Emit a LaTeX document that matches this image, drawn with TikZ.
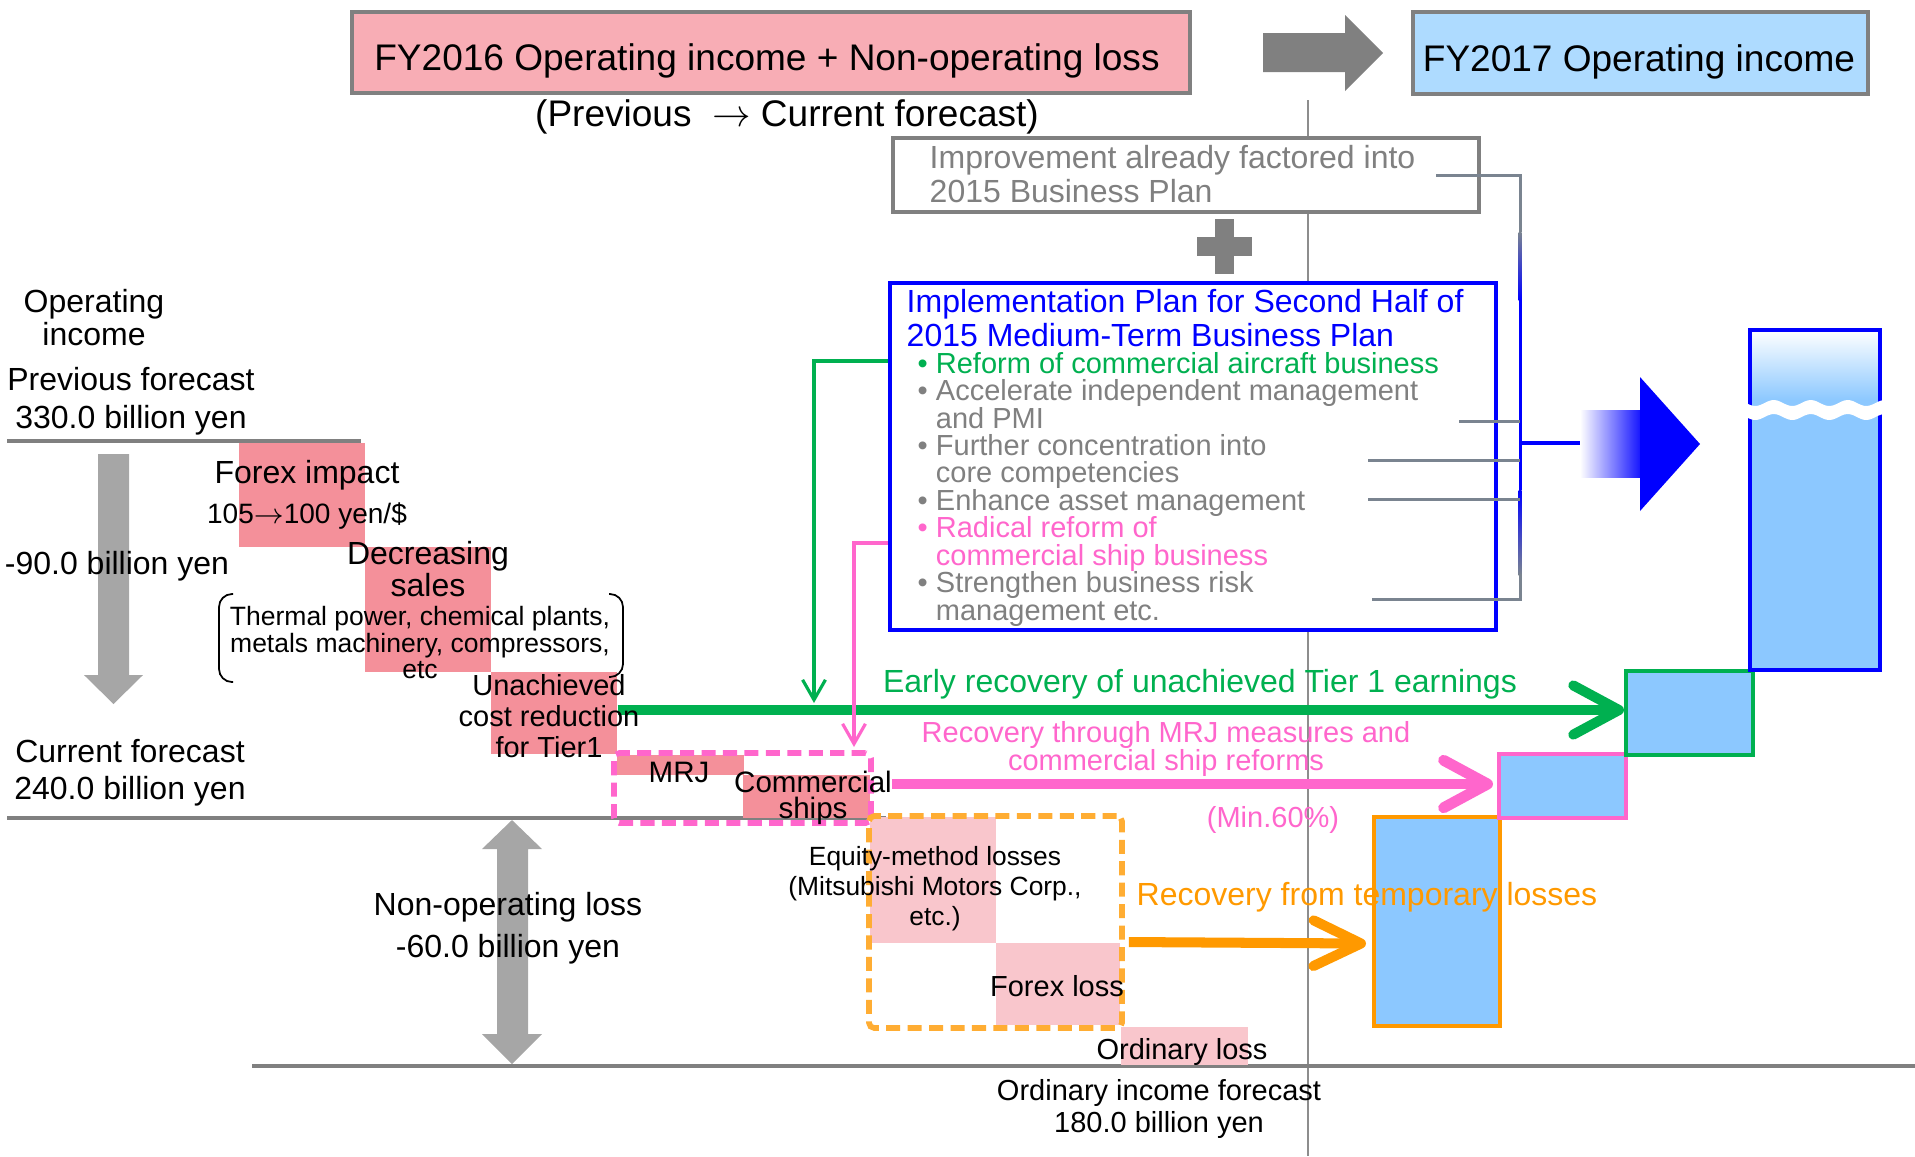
\documentclass[tikz,border=0pt]{standalone}
\usepackage{fontspec}
\setmainfont{Liberation Sans}
\usetikzlibrary{arrows.meta,fit,calc}
\lineskiplimit=-20pt

\definecolor{headpink}{HTML}{F8ADB5}
\definecolor{headblue}{HTML}{AEDBFF}
\definecolor{losspink}{HTML}{F4909A}
\definecolor{palepink}{HTML}{F9C6CC}
\definecolor{gainblue}{HTML}{8CC8FF}
\definecolor{mhgreen}{HTML}{00B050}
\definecolor{mhpink}{HTML}{FF66CC}
\definecolor{mhorange}{HTML}{FF9900}
\definecolor{mhblue}{HTML}{0000FF}
\definecolor{midblue}{HTML}{1E90FF}
\definecolor{rulegray}{HTML}{808080}
\definecolor{fatgray}{HTML}{A6A6A6}
\definecolor{stubgray}{HTML}{7A8490}

\tikzset{
  lab/.style 2 args={font=\fontsize{#1}{#2}\selectfont, align=center, anchor=base},
  cell/.style={inner sep=0pt, line width=1.14pt},
  rule/.style={rulegray, line width=1.14pt},
  stub/.style={stubgray, line width=0.85pt},
  dashbox/.style={inner sep=0pt, line width=1.6pt, rounded corners=1.5pt, dash pattern=on 4pt off 2.1pt},
  link/.style={line width=0.9pt, -{Straight Barb[length=5.7pt, width=6.5pt]}},
}

\begin{document}
\begin{tikzpicture}[
  x=0.01cm, y=-0.01cm,
  every node/.style={inner sep=0pt},
  fatarrow/.style={line width=#1},
  ]
  \useasboundingbox (0,0) rectangle (1915,1156);

  % guide line and levels
  \coordinate (guideTop) at (1308,100);
  \coordinate (guideBot) at (1308,1156);
  \draw[rulegray!90, line width=0.45pt] (guideTop) -- (guideBot);
  \foreach \a/\b/\y in {7/361/441, 7/886/818, 252/1915/1066}
    \draw[rule] (\a,\y) -- (\b,\y);

  % headings
  \node[fit={(352,12) (1190,93)}, cell, draw=rulegray, fill=headpink] (oldHead) {};
  \node[lab={10.53}{12}] (oldHeadTxt) at (767,70) {FY2016 Operating income + Non-operating loss};
  \node[lab={10.53}{12}] (oldSub) at (787,126) {(Previous~~$\rightarrow$ Current forecast)};
  \node[fit={(1413,12) (1868,94)}, cell, draw=rulegray, fill=headblue] (newHead) {};
  \node[lab={10.53}{12}] (newHeadTxt) at (1639,71) {FY2017 Operating income};
  \fill[rulegray] (1263,33) -- (1345,33) -- (1345,15) -- (1383,53) -- (1345,91) -- (1345,72) -- (1263,72) -- cycle;

  % improvement box, plus, plan box
  \node[fit={(893,138) (1479,212)}, inner sep=0pt, line width=0.9pt, draw=rulegray, fill=white] (impBox) {};
  \node[lab={9.1}{9.67}, align=left, anchor=base west, text=rulegray] (impTxt) at (929,202)
    {Improvement already factored into\\2015 Business Plan};
  \fill[rulegray] (1215,219) rectangle (1234,274);
  \fill[rulegray] (1197,237) rectangle (1252,256);

  \node[fit={(890,283) (1496,630)}, cell, draw=mhblue, fill=white] (plan) {};
  \node[lab={9.1}{9.67}, align=left, anchor=base west, text=mhblue] (planTitle) at (906,346)
    {Implementation Plan for Second Half of\\2015 Medium-Term Business Plan};
  \node[lab={8.25}{7.8}, align=left, anchor=base west, text=rulegray] (planItems) at (917,620) {%
    \textcolor{mhgreen}{• Reform of commercial aircraft business}\\
    • Accelerate independent management\\
    \phantom{• }and PMI\\
    • Further concentration into\\
    \phantom{• }core competencies\\
    • Enhance asset management\\
    \textcolor{mhpink}{• Radical reform of}\\
    \textcolor{mhpink}{\phantom{• }commercial ship business}\\
    • Strengthen business risk\\
    \phantom{• }management etc.};

  % bracket from the plan items
  \coordinate (impStub) at (1436,175);
  \coordinate (spineTop) at (1520,232);
  \coordinate (spineMid) at (1520,443);
  \coordinate (fadeStart) at (1580,443);
  \draw[stub] (impStub) -| (spineTop);
  \shade[top color=stubgray, bottom color=mhblue] (1518.5,232) rectangle (1521.5,300);
  \fill[mhblue] (1518.5,300) rectangle (1521.5,490);
  \shade[top color=mhblue, middle color=midblue, bottom color=stubgray] (1518.5,490) rectangle (1521.5,575);
  \draw[stub] (1520,574) |- (1372,599);
  \foreach \y/\x in {421/1459, 460/1368, 499/1368}
    \draw[stub] (\x,\y) -- (1520,\y);
  \draw[mhblue, line width=1.14pt] (spineMid) -- (fadeStart);
  \shade[left color=white, right color=mhblue] (1580,410) rectangle (1646,477);
  \fill[mhblue] (1640,377) -- (1700,444) -- (1640,511) -- cycle;

  % loss bars
  \foreach \a/\b/\c/\d/\n in {239/443/365/547/fxBar, 365/547/491/672/salesBar,
      491/672/617/754/tierBar, 617/755/744/775/mrjBar, 743/775/870/818/shipBar}
    \node[fit={(\a,\b) (\c,\d)}, fill=losspink] (\n) {};
  \foreach \a/\b/\c/\d/\n in {870/817/996/943/eqBar, 996/943/1120/1025/fxLossBar,
      1121/1027/1248/1065/ordBar}
    \node[fit={(\a,\b) (\c,\d)}, fill=palepink] (\n) {};
  \node[fit={(614,753) (871,823)}, dashbox, draw=mhpink] (mrjBox) {};
  \node[fit={(869,816) (1122,1028)}, dashbox, draw=mhorange!80!white] (lossBox) {};

  % gain bars
  \node[fit={(1374,817) (1500,1026)}, cell, draw=mhorange, fill=gainblue] (gainTemp) {};
  \node[fit={(1499,754) (1626,818)}, cell, draw=mhpink, fill=gainblue] (gainMrj) {};
  \node[fit={(1626,671) (1753,755)}, cell, draw=mhgreen, fill=gainblue] (gainTier) {};
  \shade[top color=white, bottom color=gainblue] (1750,330) rectangle (1880,400);
  \fill[gainblue] (1750,400) rectangle (1880,670);
  \node[fit={(1750,330) (1880,670)}, cell, draw=mhblue] (gainPlan) {};
  \fill[white] plot[domain=1746:1884, samples=50] (\x,{403+3*sin(9.73*(\x-1746))})
    -- plot[domain=1884:1746, samples=50] (\x,{417+3*sin(9.73*(\x-1746))}) -- cycle;

  % recovery arrows
  \draw[fatarrow=2.85pt, mhgreen, -{Straight Barb[round, length=13pt, width=14pt]}]
    ($(tierBar.east)+(0,-3)$) -- ($(gainTier.west)+(0,-3)$);
  \draw[fatarrow=3.1pt, mhpink, -{Straight Barb[round, length=12.5pt, width=13.5pt]}]
    ($(mrjBox.east)+(18,-4)$) -- ($(gainMrj.west)+(-4,-2)$);
  \draw[fatarrow=2.85pt, mhorange, -{Straight Barb[round, length=13.5pt, width=13pt]}]
    ($(lossBox.east)+(4,20)$) -- ($(gainTemp.west)+(-6,22)$);

  % links from the plan
  \coordinate (grnFrom) at ($(plan.north west)+(0,80)$);
  \coordinate (grnTo) at (814,703);
  \coordinate (pnkFrom) at ($(plan.north west)+(0,262)$);
  \coordinate (pnkTo) at (854,747);
  \draw[link, mhgreen] (grnFrom) -| (grnTo);
  \draw[link, mhpink] (pnkFrom) -| (pnkTo);

  % grey span arrows
  \fill[fatgray] (98,454) -- (129,454) -- (129,675) -- (143,675) -- (113.5,704) -- (84,675) -- (98,675) -- cycle;
  \fill[fatgray] (512,820) -- (542,849) -- (528,849) -- (528,1034) -- (542,1034) -- (512,1064)
    -- (482,1034) -- (497,1034) -- (497,849) -- (482,849) -- cycle;

  % brackets round the sales note
  \draw[line width=0.5pt, rounded corners=3.7pt] (233,594) -- (219,594) -- (219,682) -- (233,682);
  \draw[line width=0.5pt, rounded corners=3.7pt] (609,594) -- (623,594) -- (623,677) -- (609,677);

  % labels (multi-line ones sit on their last baseline)
  \node[lab={9.1}{9.39}] (opLbl) at (94,345) {Operating\\income};
  \node[lab={9.1}{10.8}] (prevLbl) at (131,428) {Previous forecast\\330.0 billion yen};
  \node[lab={9.1}{9.1}] (dropLbl) at (117,574) {-90.0 billion yen};
  \node[lab={9.1}{9.1}] (fxLbl) at (307,483) {Forex impact};
  \node[lab={7.97}{9}] (fxRate) at (307,523) {105$\rightarrow$100 yen/\$};
  \node[lab={9.1}{9.1}] (salesLbl) at (428,596) {Decreasing\\sales};
  \node[lab={7.54}{7.4}] (salesNote) at (420,678) {Thermal power, chemical plants,\\metals machinery, compressors,\\etc};
  \node[lab={8.25}{8.8}] (tierLbl) at (549,757) {Unachieved\\cost reduction\\for Tier1};
  \node[lab={9.1}{10.5}] (curLbl) at (130,799) {Current forecast\\240.0 billion yen};
  \node[lab={8.4}{8.4}] (mrjLbl) at (679,782) {MRJ};
  \node[lab={8.4}{7.4}] (shipLbl) at (813,818) {Commercial\\ships};
  \node[lab={7.5}{8.4}] (eqLbl) at (935,925) {Equity-method losses\\(Mitsubishi Motors Corp.,\\etc.)};
  \node[lab={8.25}{8.25}] (fxLossLbl) at (1057,996) {Forex loss};
  \node[lab={8.25}{8.25}] (ordLossLbl) at (1182,1059) {Ordinary loss};
  \node[lab={9.1}{11.95}] (nonopLbl) at (508,957) {Non-operating loss\\-60.0 billion yen};
  \node[lab={8.25}{9.1}] (ordLbl) at (1159,1132) {Ordinary income forecast\\180.0 billion yen};
  \node[lab={9.1}{9.1}, text=mhgreen] (earlyLbl) at (1200,692) {Early recovery of unachieved Tier 1 earnings};
  \node[lab={8.25}{7.97}, text=mhpink] (mrjRecLbl) at (1166,770) {Recovery through MRJ measures and\\commercial ship reforms};
  \node[lab={8.25}{8.25}, text=mhpink] (minLbl) at (1273,827) {(Min.60\%)};
  \node[lab={9.1}{9.1}, text=mhorange] (tempLbl) at (1367,905) {Recovery from temporary losses};
\end{tikzpicture}
\end{document}
